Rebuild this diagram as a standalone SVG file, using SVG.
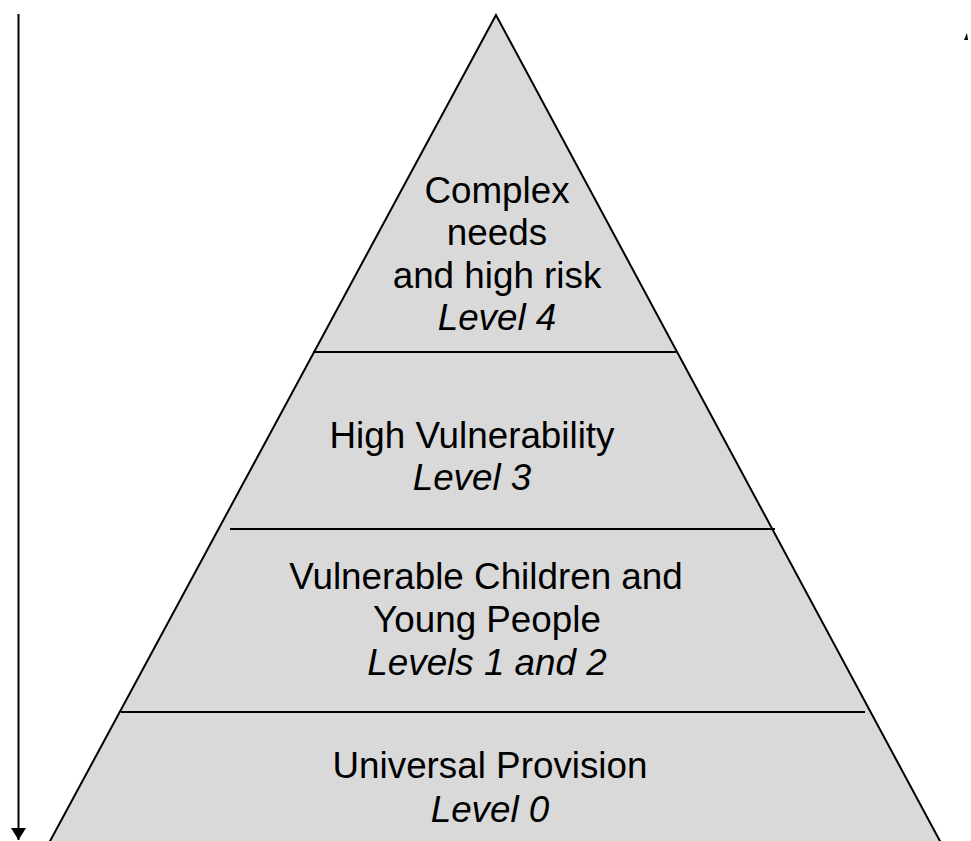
<svg xmlns="http://www.w3.org/2000/svg" width="971" height="841" viewBox="0 0 971 841">
<style>
.t{font-family:"Liberation Sans",Arial,sans-serif;font-size:36.8px;fill:#000;text-anchor:middle}
.i{font-style:italic}
.ln{stroke:#000;stroke-width:2;fill:none}
</style>
<defs>
<marker id="ah" markerWidth="14" markerHeight="16" refX="12" refY="8" orient="auto" markerUnits="userSpaceOnUse">
<path d="M0,0.5 L12,8 L0,15.5 Z" fill="#000"/>
</marker>
</defs>
<rect width="971" height="841" fill="#fff"/>
<g id="pyramid">
<polygon points="496,15 42,856 948,856" fill="#d9d9d9" stroke="#000" stroke-width="2"/>
</g>
<g id="connectors">
<line class="ln" x1="313" y1="352" x2="676" y2="352"/>
<line class="ln" x1="230" y1="529" x2="775" y2="529"/>
<line class="ln" x1="121" y1="712" x2="865" y2="712"/>
<line class="ln" x1="18.5" y1="14" x2="18.5" y2="840" marker-end="url(#ah)"/>
<polygon points="964,40 967,33 968,40" fill="#000"/>
</g>
<g id="level4">
<text class="t" x="497" y="203">Complex</text>
<text class="t" x="497" y="245">needs</text>
<text class="t" x="497" y="288">and high risk</text>
<text class="t i" x="497" y="330">Level 4</text>
</g>
<g id="level3">
<text class="t" x="472" y="448">High Vulnerability</text>
<text class="t i" x="472" y="490">Level 3</text>
</g>
<g id="level12">
<text class="t" x="486" y="589">Vulnerable Children and</text>
<text class="t" x="487" y="632">Young People</text>
<text class="t i" x="487" y="675">Levels 1 and 2</text>
</g>
<g id="level0">
<text class="t" x="490" y="778">Universal Provision</text>
<text class="t i" x="490" y="822">Level 0</text>
</g>
</svg>
